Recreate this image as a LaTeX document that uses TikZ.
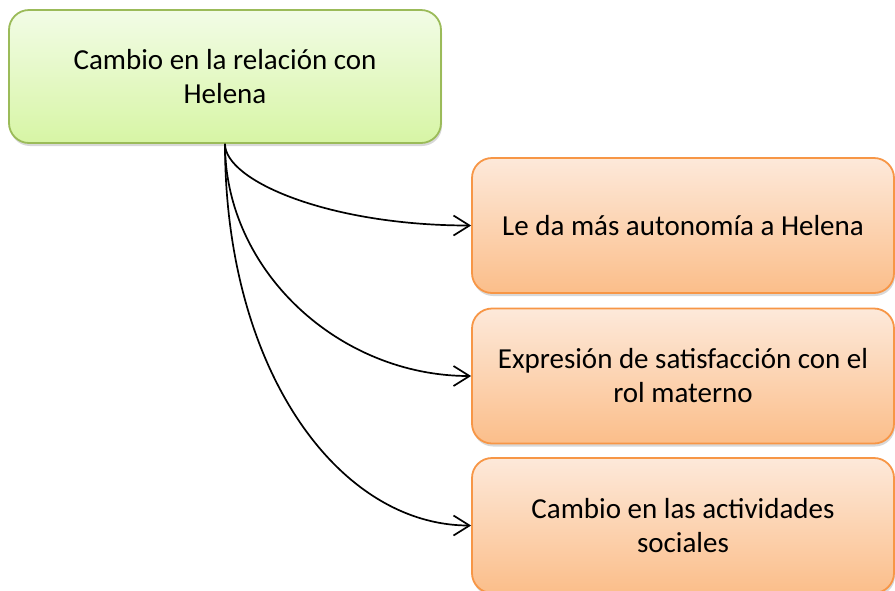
\documentclass[tikz,border=0pt]{standalone}
\usepackage{fontspec}
\setmainfont{Carlito}
\usetikzlibrary{arrows.meta,shadows}
\definecolor{gtop}{HTML}{F2FCE6}
\definecolor{gbot}{HTML}{D7F5A5}
\definecolor{gborder}{HTML}{9BBB59}
\definecolor{otop}{HTML}{FDE9DA}
\definecolor{obot}{HTML}{FBBE8A}
\definecolor{oborder}{HTML}{F79646}
\tikzset{
  box/.style={rounded corners=20pt, line width=1.8pt, align=center,
    minimum height=135pt, inner sep=0pt,
    font=\fontsize{29}{34}\selectfont,
    drop shadow={opacity=0.3, shadow xshift=1pt, shadow yshift=-3pt}},
  greenbox/.style={box, draw=gborder, top color=gtop, bottom color=gbot, minimum width=432pt, minimum height=133pt},
  orangebox/.style={box, draw=oborder, top color=otop, bottom color=obot, minimum width=422pt},
  conn/.style={line width=1.7pt, -{Straight Barb[length=16pt,width=20pt,line width=1.7pt]}}
}
\begin{document}
\begin{tikzpicture}[x=1pt,y=-1pt]
\clip (0,0) rectangle (895,590);
\fill[white] (0,0) rectangle (895,590);
\node[greenbox] (top) at (225,76.5) {Cambio en la relación con\\Helena};
\node[orangebox] (b1) at (683,225.5) {Le da más autonomía a Helena};
\node[orangebox] (b2) at (683,376) {Expresión de satisfacción con el\\rol materno};
\node[orangebox] (b3) at (683,525.5) {Cambio en las actividades\\sociales};
\draw[conn] (top.south) .. controls +(0,37) and +(-142,0) .. (b1.west);
\draw[conn] (top.south) .. controls +(0,127) and +(-132,0) .. (b2.west);
\draw[conn] (top.south) .. controls +(0,227) and +(-132,0) .. (b3.west);
\end{tikzpicture}
\end{document}
